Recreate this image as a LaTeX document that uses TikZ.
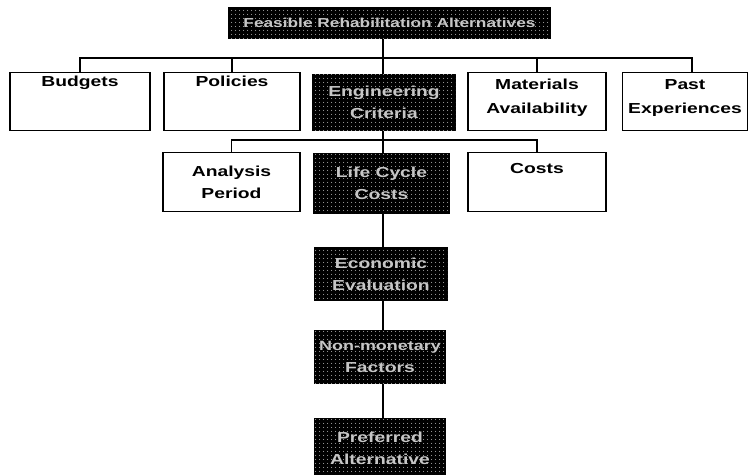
\documentclass[tikz,border=0pt]{standalone}
\usepackage{fontspec}
\newfontfamily\boxfont{Liberation Sans Bold}[FakeStretch=1.33]
\usetikzlibrary{patterns.meta}
\begin{document}
\begin{tikzpicture}[x=1pt,y=-1pt,
  wbox/.style={draw=black,line width=1.3pt,fill=white,align=center,inner sep=0pt,
    font=\fontsize{14.5}{24}\boxfont},
  dbox/.style={draw=black,line width=1.3pt,fill=black,align=center,inner sep=0pt,
    text=gray!45,font=\fontsize{14.5}{22}\boxfont,
    postaction={pattern={Dots[distance=4pt,radius=0.55pt]},pattern color=white}},
  link/.style={draw=black,line width=1.1pt}]
\useasboundingbox (0,0) rectangle (749,474);
\clip (0,0) rectangle (749,474);
% top
\node[dbox,minimum width=322,minimum height=30] (top) at (389.5,23) {\fontsize{13}{15}\boxfont Feasible Rehabilitation Alternatives};
% row 1
\node[wbox,minimum width=140,minimum height=58,anchor=north] (budgets) at (80,72) {Budgets\\[16pt]};
\node[wbox,minimum width=136,minimum height=58,anchor=north] (policies) at (232,72) {Policies\\[16pt]};
\node[dbox,minimum width=142,minimum height=56,anchor=north] (d1) at (384,74) {Engineering\\Criteria};
\node[wbox,minimum width=138,minimum height=58,anchor=north] (materials) at (537,72) {Materials\\Availability\\[-13pt]};
\node[wbox,minimum width=125,minimum height=58,anchor=north] (past) at (685,72) {Past\\Experiences\\[-13pt]};
% row 2
\node[wbox,minimum width=137,minimum height=59,anchor=north,font=\fontsize{14.5}{22}\boxfont] (analysis) at (231.5,152) {Analysis\\Period};
\node[dbox,minimum width=135,minimum height=60,anchor=north] (d2) at (381.5,153) {Life Cycle\\Costs};
\node[wbox,minimum width=138,minimum height=59,anchor=north] (costs) at (537,152) {Costs\\[3pt]};
% chain
\node[dbox,minimum width=132,minimum height=53,anchor=north] (d3) at (381,247) {Economic\\Evaluation};
\node[dbox,minimum width=130,minimum height=53,anchor=north] (d4) at (380,330) {\fontsize{13.5}{22}\boxfont Non-monetary\\Factors};
\node[dbox,minimum width=130,minimum height=60,anchor=north] (d5) at (380,418) {Preferred\\Alternative};
% buses
\coordinate (bus1) at (383,58);
\coordinate (bus2) at (383,140);
\draw[link] (budgets.north) |- (bus1) -| ([xshift=7]past.north);
\draw[link] (policies.north) -- (policies.north |- bus1);
\draw[link] (materials.north) -- (materials.north |- bus1);
\draw[link] (analysis.north) |- (bus2) -| (costs.north);
\draw[link] (top.south -| bus1) -- (d1.north -| bus1);
\draw[link] (d1.south -| bus2) -- (d2.north -| bus2);
\draw[link] (d2.south -| bus2) -- (d3.north -| bus2);
\draw[link] (d3.south -| bus2) -- (d4.north -| bus2);
\draw[link] (d4.south -| bus2) -- (d5.north -| bus2);
\end{tikzpicture}
\end{document}
